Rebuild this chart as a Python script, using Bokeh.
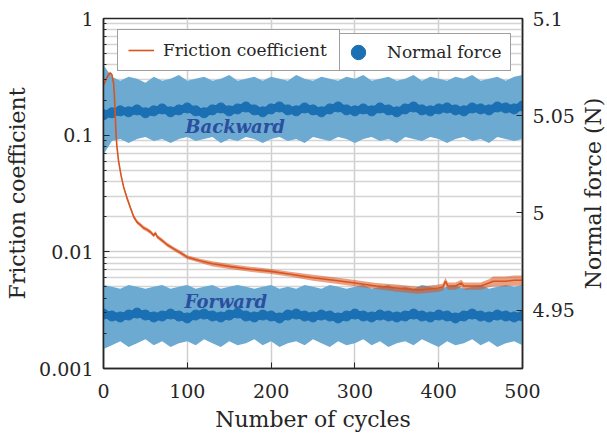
from bokeh.plotting import figure
from bokeh.layouts import row
from bokeh.models import (Range1d, LinearAxis, LinearScale, FixedTicker,
                          CustomJSTickFormatter, Legend, LegendItem)
from bokeh.core.properties import value
from bokeh.embed import file_html
from bokeh.resources import INLINE

FONT = "DejaVu Serif"
DARK = "#262626"

# ---------------- data ----------------
fric_cycles = [0, 3, 6, 8, 10, 12, 13, 14, 15, 16, 18, 21, 24, 28, 32, 36, 40, 44,
               48, 52, 56, 60, 62, 64, 70, 76, 84, 92, 100, 115, 130, 150, 175, 200,
               225, 250, 275, 300, 325, 350, 375, 390, 400, 405, 408, 411, 420, 427,
               430, 440, 450, 460, 465, 470, 480, 490, 500]
fric_coef = [0.27, 0.30, 0.33, 0.34, 0.33, 0.28, 0.22, 0.15, 0.10, 0.08, 0.06, 0.045,
             0.036, 0.029, 0.024, 0.020, 0.018, 0.017, 0.016, 0.0155, 0.0148, 0.0138,
             0.0145, 0.0135, 0.0125, 0.0115, 0.0106, 0.0098, 0.0090, 0.0084, 0.0079,
             0.0075, 0.0071, 0.0068, 0.0064, 0.0060, 0.0057, 0.0054, 0.0051, 0.0049,
             0.0047, 0.0048, 0.0049, 0.0050, 0.0056, 0.0051, 0.0051, 0.0054, 0.0051,
             0.0051, 0.0051, 0.0054, 0.0056, 0.0056, 0.0056, 0.0057, 0.0057]
fric_rel_spread = [0.03, 0.03, 0.03, 0.03, 0.03, 0.03, 0.03, 0.03, 0.03, 0.03, 0.03,
                   0.03, 0.03, 0.04, 0.04, 0.04, 0.04, 0.04, 0.04, 0.04, 0.04, 0.04,
                   0.04, 0.04, 0.04, 0.04, 0.04, 0.04, 0.04, 0.04, 0.05, 0.05, 0.05,
                   0.05, 0.05, 0.06, 0.06, 0.06, 0.06, 0.07, 0.07, 0.07, 0.07, 0.07,
                   0.07, 0.07, 0.07, 0.07, 0.07, 0.07, 0.07, 0.08, 0.10, 0.10, 0.10,
                   0.10, 0.10]

force_cycles = [0, 10, 20, 30, 40, 50, 60, 70, 80, 90, 100, 110, 120, 130, 140, 150,
                160, 170, 180, 190, 200, 210, 220, 230, 240, 250, 260, 270, 280, 290,
                300, 310, 320, 330, 340, 350, 360, 370, 380, 390, 400, 410, 420, 430,
                440, 450, 460, 470, 480, 490, 500]
backward_mean = [5.0505, 5.0515, 5.0525, 5.0520, 5.0530, 5.0515, 5.0525, 5.0535, 5.0520, 5.0530,
                 5.0540, 5.0525, 5.0515, 5.0530, 5.0540, 5.0525, 5.0535, 5.0545, 5.0530, 5.0520,
                 5.0535, 5.0545, 5.0530, 5.0525, 5.0540, 5.0530, 5.0520, 5.0535, 5.0545, 5.0530,
                 5.0525, 5.0535, 5.0525, 5.0540, 5.0530, 5.0520, 5.0535, 5.0545, 5.0530, 5.0525,
                 5.0535, 5.0540, 5.0530, 5.0525, 5.0540, 5.0535, 5.0530, 5.0545, 5.0540, 5.0535, 5.0550]
backward_upper = [5.076, 5.070, 5.068, 5.070, 5.069, 5.067, 5.070, 5.068, 5.069, 5.071,
                  5.068, 5.069, 5.070, 5.068, 5.069, 5.071, 5.068, 5.069, 5.070, 5.068,
                  5.070, 5.069, 5.068, 5.071, 5.069, 5.068, 5.070, 5.069, 5.068, 5.070,
                  5.069, 5.071, 5.068, 5.069, 5.070, 5.068, 5.069, 5.071, 5.068, 5.070,
                  5.069, 5.068, 5.070, 5.069, 5.071, 5.068, 5.069, 5.070, 5.068, 5.070, 5.071]
backward_lower = [5.030, 5.037, 5.038, 5.036, 5.038, 5.039, 5.037, 5.038, 5.036, 5.038,
                  5.039, 5.037, 5.038, 5.039, 5.036, 5.038, 5.037, 5.039, 5.038, 5.036,
                  5.038, 5.039, 5.037, 5.038, 5.036, 5.039, 5.038, 5.037, 5.039, 5.038,
                  5.036, 5.038, 5.039, 5.037, 5.038, 5.036, 5.039, 5.038, 5.037, 5.039,
                  5.038, 5.036, 5.038, 5.039, 5.037, 5.038, 5.036, 5.039, 5.038, 5.037, 5.038]
forward_mean = [4.9480, 4.9470, 4.9465, 4.9475, 4.9485, 4.9475, 4.9465, 4.9470, 4.9480, 4.9470,
                4.9460, 4.9475, 4.9480, 4.9470, 4.9465, 4.9475, 4.9485, 4.9470, 4.9465, 4.9475,
                4.9470, 4.9460, 4.9475, 4.9480, 4.9470, 4.9465, 4.9475, 4.9470, 4.9460, 4.9470,
                4.9480, 4.9470, 4.9465, 4.9475, 4.9470, 4.9465, 4.9470, 4.9480, 4.9470, 4.9465,
                4.9475, 4.9470, 4.9460, 4.9470, 4.9480, 4.9470, 4.9465, 4.9475, 4.9470, 4.9465, 4.9470]
forward_upper = [4.963, 4.962, 4.961, 4.963, 4.962, 4.961, 4.962, 4.963, 4.961, 4.962,
                 4.963, 4.961, 4.962, 4.963, 4.961, 4.962, 4.963, 4.962, 4.961, 4.962,
                 4.963, 4.961, 4.962, 4.961, 4.963, 4.962, 4.961, 4.963, 4.962, 4.961,
                 4.962, 4.963, 4.961, 4.962, 4.963, 4.961, 4.962, 4.961, 4.963, 4.962,
                 4.961, 4.962, 4.963, 4.961, 4.962, 4.963, 4.961, 4.962, 4.963, 4.962, 4.963]
forward_lower = [4.930, 4.932, 4.934, 4.931, 4.933, 4.935, 4.932, 4.934, 4.931, 4.933,
                 4.934, 4.932, 4.935, 4.933, 4.931, 4.934, 4.932, 4.933, 4.935, 4.932,
                 4.934, 4.931, 4.933, 4.934, 4.932, 4.935, 4.933, 4.931, 4.934, 4.932,
                 4.933, 4.935, 4.932, 4.934, 4.931, 4.933, 4.934, 4.932, 4.935, 4.933,
                 4.931, 4.934, 4.932, 4.933, 4.935, 4.932, 4.934, 4.931, 4.933, 4.934, 4.932]

x_ticks = [0, 100, 200, 300, 400, 500]
left_ticks = [0.001, 0.01, 0.1, 1]
left_tick_labels = ["0.001", "0.01", "0.1", "1"]
left_minor = [m * d for d in [0.001, 0.01, 0.1] for m in [2, 3, 4, 5, 6, 7, 8, 9]]
right_ticks = [4.95, 5.0, 5.05, 5.1]
right_tick_labels = ["4.95", "5", "5.05", "5.1"]

label_text = ["Backward", "Forward"]
label_x = [157, 146]
label_y = [5.0445, 4.9545]

# ---------------- layout ----------------
W2 = 30                      # strip holding the right-hand axis title
W, H = 607 - W2, 434
ML, MR, MT, MB = 103, 54, 18, 65
FW, FH = W - ML - MR, H - MT - MB

p = figure(width=W, height=H, y_axis_type="log",
           x_range=Range1d(0, 500), y_range=Range1d(0.001, 1),
           output_backend="svg", toolbar_location=None,
           min_border_left=ML, min_border_right=MR, min_border_top=MT,
           min_border_bottom=MB)
p.extra_y_ranges = {"force": Range1d(4.92, 5.1)}
p.extra_y_scales = {"force": LinearScale()}
p.background_fill_color = "white"
p.border_fill_color = "white"
p.outline_line_color = DARK
p.outline_line_width = 1.5

def fmt(vals, labs):
    return CustomJSTickFormatter(args=dict(vals=vals, labs=labs), code="""
        for (let i = 0; i < vals.length; i++) {
            if (Math.abs(vals[i] - tick) <= 1e-9 * Math.max(1, Math.abs(vals[i]))) return labs[i];
        }
        return "";
    """)

def style_axis(ax):
    ax.axis_line_color = DARK
    ax.axis_line_width = 1.5
    ax.major_tick_line_color = DARK
    ax.minor_tick_line_color = DARK
    ax.major_tick_in = 6
    ax.major_tick_out = 0
    ax.minor_tick_in = 3
    ax.minor_tick_out = 0
    ax.major_label_text_font = FONT
    ax.major_label_text_font_size = "19px"
    ax.major_label_text_color = DARK
    ax.axis_label_text_font = FONT
    ax.axis_label_text_font_size = "22px"
    ax.axis_label_text_font_style = "normal"
    ax.axis_label_text_color = DARK

xa = p.below[0]
xa.ticker = FixedTicker(ticks=x_ticks)
xa.axis_label = "Number of cycles"
style_axis(xa)
xa.major_label_standoff = 15
xa.axis_label_standoff = 6

ya = p.left[0]
ya.ticker = FixedTicker(ticks=left_ticks, minor_ticks=left_minor)
ya.formatter = fmt(left_ticks, left_tick_labels)
ya.axis_label = "Friction coefficient"
style_axis(ya)
ya.major_label_standoff = 10
ya.axis_label_standoff = 6

ra = LinearAxis(y_range_name="force", ticker=FixedTicker(ticks=right_ticks),
                formatter=fmt(right_ticks, right_tick_labels))
style_axis(ra)
ra.major_label_standoff = 10
p.add_layout(ra, "right")

p.xgrid.grid_line_color = "#cfcfcf"
p.xgrid.grid_line_width = 1.5
p.ygrid.grid_line_color = "#cfcfcf"
p.ygrid.grid_line_width = 1.3
p.ygrid.minor_grid_line_color = "#d4d4d4"
p.ygrid.minor_grid_line_width = 1.3

LIGHT = "#6caad2"
MID = "#1b6fb3"

p.varea(x=force_cycles, y1=backward_lower, y2=backward_upper, y_range_name="force",
        fill_color=LIGHT, fill_alpha=1.0)
p.varea(x=force_cycles, y1=forward_lower, y2=forward_upper, y_range_name="force",
        fill_color=LIGHT, fill_alpha=1.0)
p.line(x=force_cycles, y=backward_mean, y_range_name="force", line_color=MID, line_width=8)
p.line(x=force_cycles, y=forward_mean, y_range_name="force", line_color=MID, line_width=8)
nf = p.scatter(x=force_cycles, y=backward_mean, y_range_name="force", marker="circle",
               size=10, fill_color=MID, line_color=MID)
p.scatter(x=force_cycles, y=forward_mean, y_range_name="force", marker="circle",
          size=10, fill_color=MID, line_color=MID)

p.text(x=label_x, y=label_y, text=label_text, y_range_name="force",
       text_font=value(FONT), text_font_style="bold italic", text_font_size="18px",
       text_color="#2b4f9e", text_align="center", text_baseline="middle")

fric_lo = [f * (1 - s) for f, s in zip(fric_coef, fric_rel_spread)]
fric_hi = [f * (1 + s) for f, s in zip(fric_coef, fric_rel_spread)]
p.varea(x=fric_cycles, y1=fric_lo, y2=fric_hi, fill_color="#d9541e", fill_alpha=0.55)
fl = p.line(x=fric_cycles, y=fric_coef, line_color="#d9541e", line_width=1.6)

leg1 = Legend(items=[LegendItem(label="Friction coefficient", renderers=[fl])],
              location=(14, FH - 54), padding=10, margin=0, glyph_width=26, glyph_height=16,
              label_height=16, label_standoff=9, label_width=166,
              border_line_color="#404040", border_line_width=1.3,
              background_fill_color="white", background_fill_alpha=1.0,
              label_text_font=FONT, label_text_font_size="17px", label_text_color=DARK)
leg2 = Legend(items=[LegendItem(label="Normal force", renderers=[nf])],
              location=(236, FH - 54), padding=0, margin=0, glyph_width=36, glyph_height=36,
              label_height=36, label_standoff=11, label_width=123,
              border_line_color="#404040", border_line_width=1.3,
              background_fill_color="white", background_fill_alpha=1.0,
              label_text_font=FONT, label_text_font_size="17px", label_text_color=DARK)
p.add_layout(leg1, "center")
p.add_layout(leg2, "center")

# ---------- strip carrying the right-hand title (reads bottom to top) ----------
p2 = figure(width=W2, height=H, x_range=Range1d(0, 1), y_range=Range1d(4.92, 5.1),
            output_backend="svg", toolbar_location=None,
            min_border_left=0, min_border_right=0, min_border_top=MT,
            min_border_bottom=MB)
p2.outline_line_color = None
p2.background_fill_color = "white"
p2.border_fill_color = "white"
p2.xaxis.visible = False
p2.xgrid.visible = False
p2.ygrid.visible = False
ax2 = p2.left[0]
ax2.ticker = FixedTicker(ticks=[])
ax2.axis_line_color = None
ax2.major_tick_line_color = None
ax2.minor_tick_line_color = None
ax2.major_tick_out = 0
ax2.minor_tick_out = 0
ax2.major_label_standoff = 0
ax2.axis_label = "Normal force (N)"
ax2.axis_label_standoff = 0
ax2.axis_label_text_font = FONT
ax2.axis_label_text_font_size = "22px"
ax2.axis_label_text_font_style = "normal"
ax2.axis_label_text_color = DARK

layout = row(p, p2, spacing=0)
open("out.html", "w").write(file_html(layout, INLINE))
